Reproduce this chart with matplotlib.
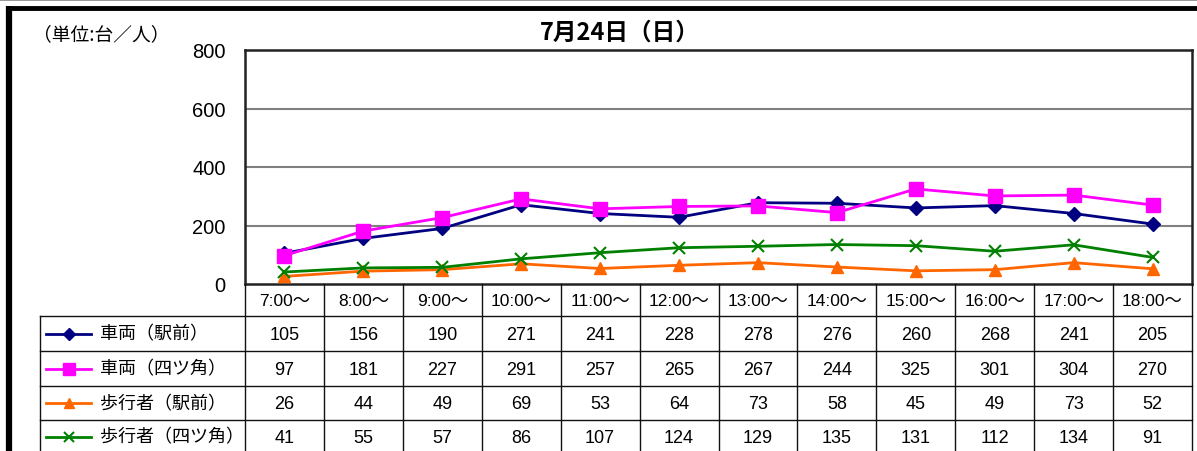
import matplotlib
matplotlib.use("Agg")
import matplotlib.pyplot as plt
from matplotlib.lines import Line2D

plt.rcParams['font.family'] = ['Liberation Sans', 'Noto Sans CJK JP', 'DejaVu Sans']

# ---- data ----
times = ["7:00～", "8:00～", "9:00～", "10:00～", "11:00～", "12:00～",
         "13:00～", "14:00～", "15:00～", "16:00～", "17:00～", "18:00～"]
series_names = ["車両（駅前）", "車両（四ツ角）", "歩行者（駅前）", "歩行者（四ツ角）"]
car_station = [105, 156, 190, 271, 241, 228, 278, 276, 260, 268, 241, 205]
car_corner = [97, 181, 227, 291, 257, 265, 267, 244, 325, 301, 304, 270]
ped_station = [26, 44, 49, 69, 53, 64, 73, 58, 45, 49, 73, 52]
ped_corner = [41, 55, 57, 86, 107, 124, 129, 135, 131, 112, 134, 91]
yticks = [0, 200, 400, 600, 800]
title = "7月24日（日）"
unit_label = "（単位:台／人）"

series = [car_station, car_corner, ped_station, ped_corner]
colors = ["#000080", "#FF00FF", "#FF6600", "#008000"]
markers = ["D", "s", "^", "x"]
msizes = [7, 10, 9, 8]

W, H = 1197, 452
fig = plt.figure(figsize=(W / 100, H / 100), dpi=100)

# layout in pixels
PL, PR, PT, PB = 245, 1192, 51, 285
TL = 40
row_edges = [285, 317, 352, 387, 421, 456]

ax = fig.add_axes([PL / W, 1 - PB / H, (PR - PL) / W, (PB - PT) / H])
n = len(times)
x = list(range(n))
for vals, c, m, ms in zip(series, colors, markers, msizes):
    ax.plot(x, vals, color=c, marker=m, markersize=ms, linewidth=2,
            markeredgewidth=1.5 if m == "x" else 1, markeredgecolor=c,
            clip_on=False, zorder=3)
ax.set_xlim(-0.5, n - 0.5)
ax.set_ylim(0, 800)
ax.set_yticks(yticks)
ax.set_yticklabels([str(v) for v in yticks], fontsize=14.5)
ax.tick_params(axis='y', length=0, pad=14)
ax.set_xticks([])
for v in yticks[1:-1]:
    ax.axhline(v, color="#808080", linewidth=1.5, zorder=1)
for s in ax.spines.values():
    s.set_linewidth(1.8)
    s.set_color("#222222")

ov2 = fig.add_axes([0, 0, 1, 1], zorder=5)
ov2.set_xlim(0, W)
ov2.set_ylim(H, 0)
ov2.axis("off")
ov2.patch.set_alpha(0)

# outer border
ov2.plot([0, W], [0.5, 0.5], color="#888888", lw=1.2)
ov2.plot([8, W], [8.5, 8.5], color="black", lw=3.5, solid_capstyle="butt")
ov2.plot([8.5, 8.5], [7, H], color="black", lw=4.5, solid_capstyle="butt")

ov2.text(620, 33, title, fontsize=17, fontweight="bold", ha="center", va="center",
         family=['Noto Sans CJK JP'])
ov2.text(33, 35, unit_label, fontsize=13.5, ha="left", va="center",
         family=['Noto Sans CJK JP'])

# table
colw = (PR - PL) / n
lc = "#111111"
for i in range(n + 1):
    xx = PL + i * colw
    ov2.plot([xx, xx], [row_edges[0], H], color=lc, lw=1)
for j, y in enumerate(row_edges[1:-1]):
    ov2.plot([TL, PR], [y, y], color=lc, lw=1)
ov2.plot([TL, TL], [row_edges[1], H], color=lc, lw=1)

for i, t in enumerate(times):
    cx = PL + (i + 0.5) * colw
    ov2.text(cx, (row_edges[0] + row_edges[1]) / 2 + 1, t, fontsize=12.5,
             ha="center", va="center")
for r, (name, vals, c, m, ms) in enumerate(zip(series_names, series, colors, markers, msizes)):
    cy = (row_edges[r + 1] + row_edges[r + 2]) / 2 + (0 if r < 3 else -1)
    ov2.add_line(Line2D([46, 91], [cy, cy], color=c, lw=2))
    ov2.plot([68.5], [cy], marker=m, color=c, markersize=ms * 0.85,
             markeredgewidth=1.5 if m == "x" else 1)
    ov2.text(100, cy, name, fontsize=13, ha="left", va="center",
             family=['Noto Sans CJK JP'])
    for i, v in enumerate(vals):
        cx = PL + (i + 0.5) * colw
        ov2.text(cx, cy + 1, str(v), fontsize=13, ha="center", va="center")

fig.savefig("out.png", dpi=100)
